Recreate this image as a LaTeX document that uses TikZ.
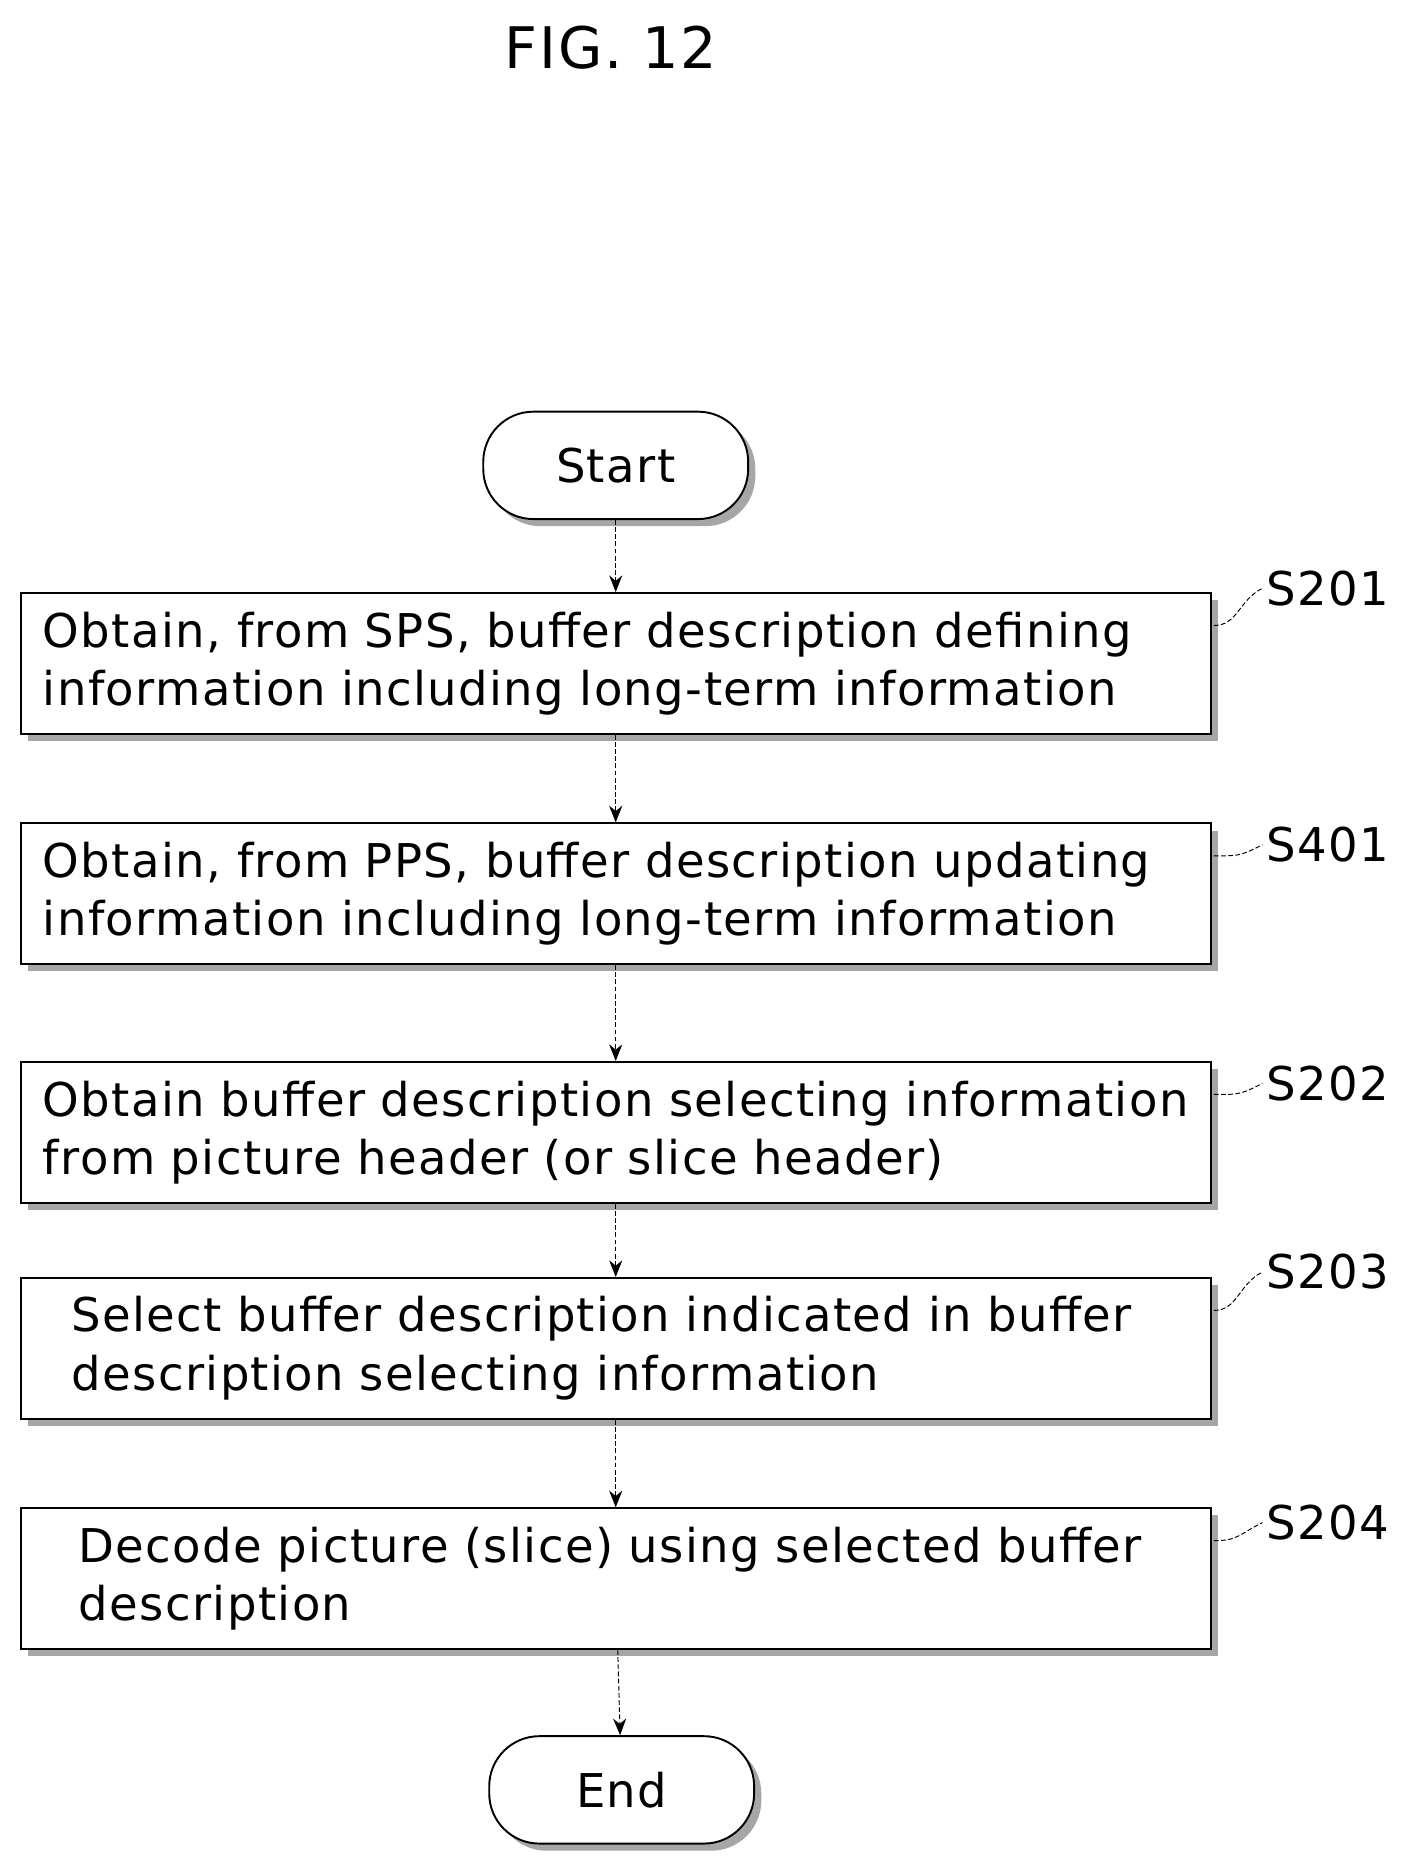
\documentclass[tikz,border=0pt]{standalone}
\usepackage{fontspec}
\setmainfont{DejaVu Sans}[LetterSpace=3]
\usetikzlibrary{shadows,arrows.meta}
\tikzset{
	stepbox/.style={draw, line width=1.6pt, fill=white, minimum width=997pt, minimum height=118pt, text width=960pt, align=left, inner xsep=18pt,
		drop shadow={shadow xshift=6pt, shadow yshift=-6pt, fill=gray!70, opacity=1},
		font=\fontsize{39}{49}\selectfont},
	term/.style={draw, line width=1.6pt, fill=white, rounded corners=42pt, minimum width=222pt, minimum height=90pt,
		drop shadow={shadow xshift=6pt, shadow yshift=-6pt, fill=gray!70, opacity=1},
		font=\fontsize{39}{44}\selectfont},
	flow/.style={thick, dash pattern=on 4pt off 2pt, -{Stealth[length=14pt,width=11pt]}},
	tag/.style={font=\fontsize{39}{44}\selectfont},
	lead/.style={thick, dash pattern=on 4pt off 2pt}
}
\begin{document}
\begin{tikzpicture}[x=1pt,y=1pt]

	\useasboundingbox (0,0) rectangle (1190,-1568);

	\node[font=\fontsize{48}{54}\selectfont] (title) at (512,-40) {FIG. 12};

	\node[term] (start) at (516,-390) {Start};
	\node[stepbox] (s201) at (516,-556) {Obtain, from SPS, buffer description defining\\information including long-term information};
	\node[stepbox] (s401) at (516,-749) {Obtain, from PPS, buffer description updating\\information including long-term information};
	\node[stepbox] (s202) at (516,-949) {Obtain buffer description selecting information\\from picture header (or slice header)};
	\node[stepbox] (s203) at (516,-1130) {\hspace*{24pt}Select buffer description indicated in buffer\\\hspace*{24pt}description selecting information};
	\node[stepbox] (s204) at (516,-1323) {\hspace*{30pt}Decode picture (slice) using selected buffer\\\hspace*{30pt}description};
	\node[term] (end) at (521,-1500) {End};

	\draw[flow] (start) -- (s201);
	\draw[flow] (s201) -- (s401);
	\draw[flow] (s401) -- (s202);
	\draw[flow] (s202) -- (s203);
	\draw[flow] (s203) -- (s204);
	\draw[flow] (s204) -- (end);

	% step labels
	\foreach \s/\n/\y in {s201/S201/-493, s401/S401/-708, s202/S202/-908, s203/S203/-1066, s204/S204/-1276} {
		\node[tag, anchor=west] (t\s) at (1058,\y) {\n};
		\draw[lead] (\s.north east) ++(2pt,-28pt) .. controls +(20pt,0) and +(-20pt,-10pt) .. (t\s.west);
	}

\end{tikzpicture}
\end{document}
